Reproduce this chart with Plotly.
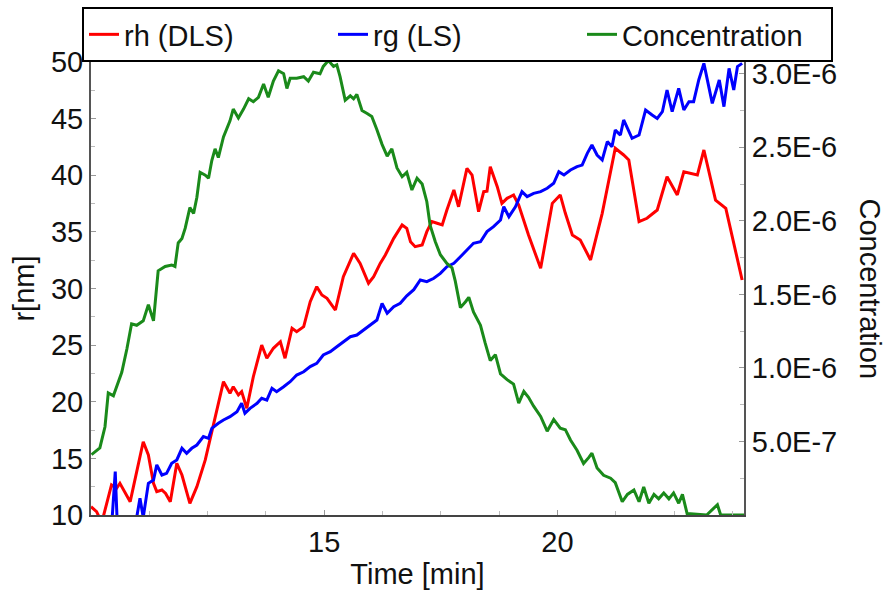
import plotly.graph_objects as go

# ---- data ----
rh_t = [10.0, 10.12, 10.2, 10.26, 10.44, 10.55, 10.62, 10.77, 10.84, 10.91, 11.12, 11.23, 11.34, 11.41,
        11.52, 11.6, 11.7, 11.84, 11.95, 12.12, 12.27, 12.45, 12.62, 12.84, 12.98, 13.05, 13.16, 13.23,
        13.34, 13.48, 13.66, 13.77, 13.91, 14.06, 14.16, 14.31, 14.41, 14.56, 14.70, 14.84, 14.95, 15.06,
        15.24, 15.41, 15.63, 15.77, 15.95, 16.06, 16.20, 16.31, 16.49, 16.67, 16.77, 16.85, 16.95, 17.10,
        17.20, 17.31, 17.42, 17.53, 17.63, 17.78, 17.88, 18.06, 18.17, 18.31, 18.42, 18.49, 18.56, 18.71,
        18.81, 18.92, 19.06, 19.17, 19.38, 19.64, 19.89, 20.06, 20.17, 20.32, 20.49, 20.71, 20.96, 21.24,
        21.42, 21.53, 21.75, 21.92, 22.14, 22.35, 22.57, 22.71, 23.00, 23.14, 23.39, 23.61, 23.96]
rh_r = [10.73, 10.29, 9.6, 9.8, 12.65, 12.36, 12.80, 11.62, 11.17, 12.50, 16.47, 15.30, 12.80, 12.06,
        12.21, 11.9, 11.17, 14.56, 13.53, 11.03, 12.50, 14.86, 17.80, 21.77, 20.75, 21.33, 20.60, 20.89,
        19.42, 22.21, 25.01, 23.84, 24.72, 25.30, 23.84, 26.49, 26.19, 26.63, 28.84, 30.16, 29.43, 29.13,
        28.10, 31.04, 33.11, 32.22, 30.46, 31.04, 32.22, 32.96, 34.43, 35.61, 35.31, 34.13, 33.69, 33.84,
        35.02, 35.90, 35.76, 35.61, 36.93, 38.70, 37.22, 40.61, 40.02, 36.78, 38.55, 38.6, 40.76, 38.99,
        37.52, 37.96, 38.26, 37.37, 34.72, 31.78, 37.52, 38.26, 36.64, 34.72, 34.28, 32.52, 36.64, 42.38,
        41.79, 41.35, 35.90, 36.20, 36.93, 39.87, 38.26, 40.31, 40.02, 42.23, 37.81, 37.08, 30.75]

rg_t = [10.0, 10.45, 10.52, 10.56, 10.90, 10.98, 11.05, 11.12, 11.23, 11.34, 11.41, 11.52, 11.62, 11.73,
        11.84, 11.95, 12.05, 12.16, 12.27, 12.41, 12.52, 12.59, 12.73, 12.84, 12.98, 13.13, 13.23, 13.30,
        13.41, 13.56, 13.66, 13.77, 13.88, 13.98, 14.13, 14.27, 14.41, 14.56, 14.70, 14.84, 14.98, 15.13,
        15.27, 15.41, 15.56, 15.70, 15.84, 15.99, 16.13, 16.24, 16.35, 16.49, 16.63, 16.77, 16.92, 17.06,
        17.20, 17.35, 17.49, 17.63, 17.78, 17.92, 18.06, 18.20, 18.35, 18.49, 18.63, 18.78, 18.85, 18.96,
        19.10, 19.24, 19.35, 19.49, 19.64, 19.78, 19.92, 20.03, 20.14, 20.28, 20.42, 20.53, 20.64, 20.74,
        20.85, 20.96, 21.07, 21.17, 21.24, 21.35, 21.42, 21.53, 21.60, 21.75, 21.89, 22.03, 22.14, 22.25,
        22.35, 22.46, 22.60, 22.71, 22.82, 22.92, 23.03, 23.14, 23.21, 23.32, 23.47, 23.57, 23.68, 23.78,
        23.86, 23.96]
rg_r = [7.0, 9.5, 13.83, 9.5, 9.0, 9.8, 11.47, 9.8, 12.80, 13.09, 14.42, 13.53, 13.68, 14.56,
        14.86, 15.89, 15.45, 15.89, 16.18, 16.92, 16.77, 17.65, 18.10, 18.39, 18.68, 19.12, 19.86, 18.98,
        19.42, 19.86, 20.30, 20.15, 21.19, 20.89, 21.33, 21.77, 22.36, 22.65, 23.10, 23.39, 24.13, 24.42,
        24.86, 25.30, 25.74, 25.89, 26.34, 26.78, 27.22, 28.69, 27.81, 28.39, 28.69, 29.35, 29.9, 30.75,
        30.60, 30.90, 31.34, 31.93, 32.22, 32.81, 33.40, 33.99, 34.13, 35.02, 35.46, 36.05, 37.22, 36.34,
        37.22, 38.55, 38.11, 38.40, 38.55, 38.85, 39.29, 40.31, 40.02, 40.46, 40.76, 40.90, 41.93, 42.67,
        41.79, 41.35, 42.97, 42.52, 43.99, 43.55, 44.88, 43.84, 43.26, 43.55, 45.76, 45.32, 45.02, 45.61,
        47.53, 45.61, 47.67, 45.76, 46.50, 46.50, 48.41, 49.88, 48.41, 46.35, 48.41, 46.06, 49.44, 47.53,
        49.59, 49.88]

conc_t = [10.01, 10.19, 10.30, 10.37, 10.48, 10.59, 10.66, 10.77, 10.87, 10.98, 11.12, 11.23, 11.34, 11.44,
          11.59, 11.73, 11.80, 11.87, 11.95, 12.02, 12.12, 12.20, 12.27, 12.34, 12.45, 12.52, 12.59, 12.66,
          12.73, 12.84, 12.91, 12.98, 13.05, 13.16, 13.27, 13.38, 13.48, 13.59, 13.70, 13.80, 13.91, 14.02,
          14.13, 14.20, 14.27, 14.41, 14.56, 14.66, 14.77, 14.91, 14.98, 15.09, 15.20, 15.27, 15.34, 15.45,
          15.56, 15.63, 15.70, 15.81, 15.92, 16.02, 16.13, 16.24, 16.35, 16.45, 16.56, 16.67, 16.77, 16.88,
          16.99, 17.10, 17.20, 17.27, 17.38, 17.49, 17.63, 17.74, 17.81, 17.92, 18.03, 18.10, 18.20, 18.35,
          18.45, 18.56, 18.67, 18.78, 18.92, 19.06, 19.17, 19.28, 19.38, 19.49, 19.64, 19.78, 19.92, 20.06,
          20.17, 20.28, 20.42, 20.56, 20.67, 20.74, 20.85, 20.99, 21.14, 21.24, 21.39, 21.50, 21.64, 21.75,
          21.85, 21.96, 22.07, 22.17, 22.28, 22.39, 22.49, 22.60, 22.68, 22.78, 23.20, 23.43, 23.50, 24.0]
conc_v = [0.41, 0.456, 0.60, 0.83, 0.81, 0.90, 0.97, 1.13, 1.30, 1.29, 1.32, 1.43, 1.32, 1.66,
          1.69, 1.70, 1.69, 1.85, 1.88, 1.95, 2.09, 2.05, 2.16, 2.33, 2.31, 2.29, 2.41, 2.49,
          2.43, 2.57, 2.63, 2.68, 2.76, 2.70, 2.76, 2.83, 2.81, 2.84, 2.93, 2.84, 2.95, 3.02,
          3.00, 2.90, 2.97, 2.97, 2.98, 2.95, 3.01, 3.00, 3.05, 3.09, 3.05, 3.06, 2.98, 2.82,
          2.85, 2.83, 2.86, 2.75, 2.73, 2.71, 2.62, 2.52, 2.44, 2.49, 2.36, 2.30, 2.33, 2.21,
          2.29, 2.25, 2.13, 1.97, 1.86, 1.77, 1.71, 1.68, 1.59, 1.41, 1.45, 1.48, 1.38, 1.29,
          1.17, 1.05, 1.09, 0.96, 0.92, 0.89, 0.76, 0.84, 0.80, 0.74, 0.67, 0.57, 0.65, 0.59,
          0.58, 0.51, 0.44, 0.35, 0.39, 0.42, 0.32, 0.27, 0.25, 0.22, 0.09, 0.14, 0.17, 0.09,
          0.19, 0.08, 0.14, 0.11, 0.15, 0.11, 0.15, 0.08, 0.14, 0.01, 0.0, 0.07, 0.0, 0.0]
conc_v = [v * 1e-6 for v in conc_v]

y_ticks = [10, 15, 20, 25, 30, 35, 40, 45, 50]
x_ticks = [15, 20]
y2_ticks = [0.5e-6, 1.0e-6, 1.5e-6, 2.0e-6, 2.5e-6, 3.0e-6]
y2_labels = ["5.0E-7", "1.0E-6", "1.5E-6", "2.0E-6", "2.5E-6", "3.0E-6"]

FONT = "Liberation Sans, Arial, Helvetica, sans-serif"
FS = 29

fig = go.Figure()
fig.add_trace(go.Scatter(x=rh_t, y=rh_r, mode="lines", name="rh (DLS)",
                         line=dict(color="#ff0000", width=3)))
fig.add_trace(go.Scatter(x=rg_t, y=rg_r, mode="lines", name="rg (LS)",
                         line=dict(color="#0000ff", width=3)))
fig.add_trace(go.Scatter(x=conc_t, y=conc_v, mode="lines", name="Concentration",
                         line=dict(color="#1a8a1a", width=3), yaxis="y2"))

fig.update_layout(
    width=889, height=591,
    margin=dict(l=91, r=145, t=62, b=76, autoexpand=False),
    paper_bgcolor="white", plot_bgcolor="white",
    font=dict(family=FONT, size=FS, color="#111"),
    xaxis=dict(range=[10, 24], tickvals=x_ticks, showgrid=False, zeroline=False,
               showline=True, linecolor="#444", linewidth=2, mirror=True, automargin=False,
               ticks="inside", ticklen=5, tickcolor="#999", tickwidth=1,
               minor=dict(tick0=10, dtick=1.25, ticks="inside", ticklen=4, tickcolor="#bbb"),
               title=dict(text="Time [min]", font=dict(size=FS), standoff=7)),
    yaxis=dict(range=[10, 50], tickvals=y_ticks, showgrid=False, zeroline=False,
               showline=True, linecolor="#555", linewidth=2, automargin=False,
               ticks="inside", ticklen=5, tickcolor="#999", tickwidth=1,
               minor=dict(tick0=10, dtick=2.5, ticks="inside", ticklen=4, tickcolor="#bbb"),
               title=dict(text="r[nm]", font=dict(size=FS), standoff=8)),
    yaxis2=dict(range=[0, 3.08e-6], overlaying="y", side="right", tickvals=y2_ticks,
                ticktext=y2_labels, showgrid=False, zeroline=False, automargin=False,
                showline=True, linecolor="#555", linewidth=2,
                ticks="inside", ticklen=5, tickcolor="#999", tickwidth=1,
                minor=dict(tick0=0, dtick=0.25e-6, ticks="inside", ticklen=4, tickcolor="#bbb")),
    legend=dict(orientation="h", x=1.1363, y=1.0607, xanchor="right", yanchor="middle",
                entrywidth=204, entrywidthmode="pixels",
                bordercolor="#000", borderwidth=2, bgcolor="white",
                font=dict(size=FS)),
    annotations=[dict(text="Concentration", xref="paper", yref="paper", x=1.193, y=0.5,
                      xanchor="center", yanchor="middle", textangle=90, showarrow=False,
                      font=dict(size=FS))],
)

fig.write_html("out.html")
